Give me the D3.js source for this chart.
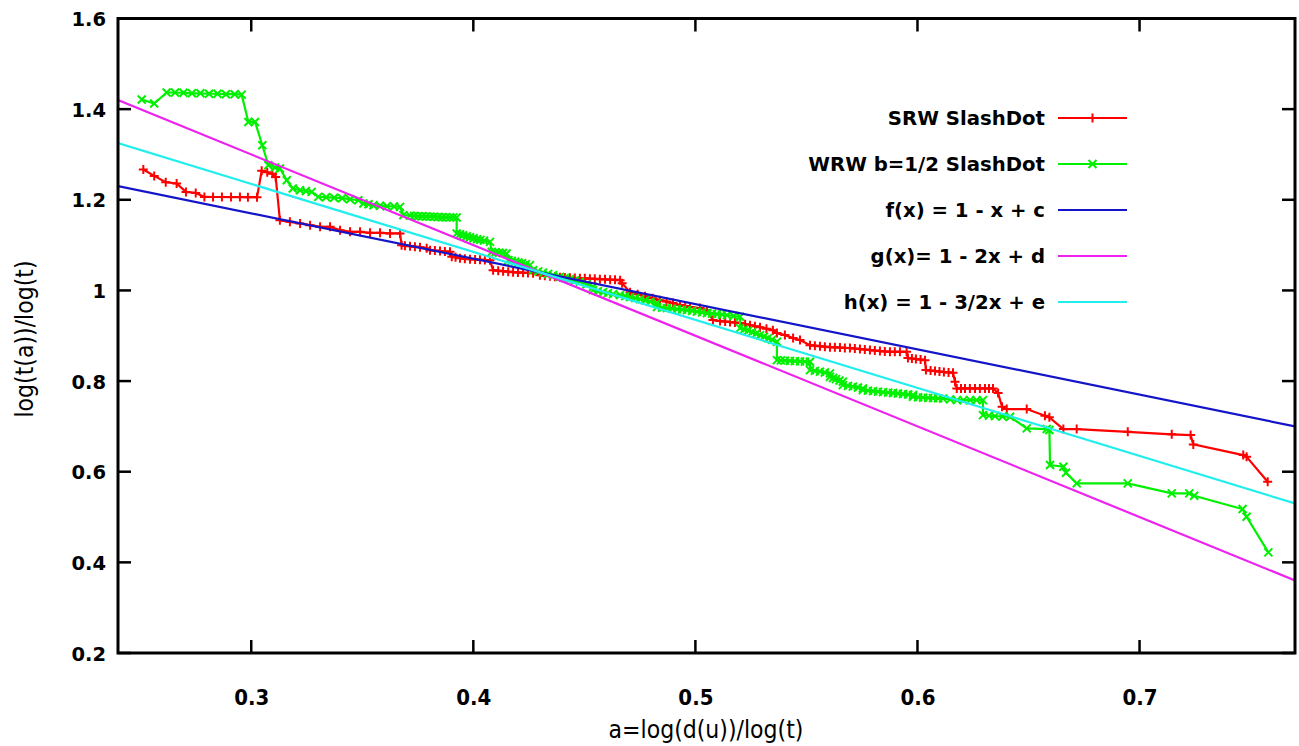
<!DOCTYPE html>
<html>
<head>
<meta charset="utf-8">
<script src="https://cdn.jsdelivr.net/npm/d3@7"></script>
<style>
html,body{margin:0;padding:0;background:#fff;}
svg{display:block;}
</style>
</head>
<body>
<svg id="chart" width="1299" height="746"></svg>
<script>
// ---------- data ----------
const xTicks = [0.3, 0.4, 0.5, 0.6, 0.7];
const yTicks = [0.2, 0.4, 0.6, 0.8, 1.0, 1.2, 1.4, 1.6];
const yTickLabels = ["0.2", "0.4", "0.6", "0.8", "1", "1.2", "1.4", "1.6"];

const srwSlashDot = [
  [0.2514,1.2669],[0.2563,1.2527],[0.2615,1.2388],[0.2664,1.2360],[0.2706,1.2174],[0.2750,1.2152],
  [0.2789,1.2064],[0.2828,1.2062],[0.2868,1.2062],[0.2909,1.2060],[0.2949,1.2060],[0.2985,1.2058],[0.3026,1.2058],
  [0.3047,1.2638],[0.3072,1.2609],[0.3095,1.2572],[0.3110,1.2505],
  [0.3129,1.1550],[0.3174,1.1513],[0.3220,1.1478],[0.3265,1.1440],[0.3310,1.1403],[0.3355,1.1403],
  [0.3400,1.1330],[0.3445,1.1292],[0.3490,1.1292],[0.3535,1.1270],[0.3580,1.1270],[0.3625,1.1257],[0.3670,1.1257],
  [0.3677,1.0999],[0.3692,1.0988],[0.3715,1.0977],[0.3737,1.0966],[0.3760,1.0955],[0.3790,1.0933],
  [0.3805,1.0889],[0.3827,1.0880],[0.3850,1.0870],[0.3872,1.0860],[0.3895,1.0851],
  [0.3903,1.0741],[0.3920,1.0730],[0.3940,1.0712],[0.3962,1.0700],[0.3985,1.0690],[0.4008,1.0684],
  [0.4030,1.0679],[0.4052,1.0672],[0.4075,1.0668],
  [0.4089,1.0447],[0.4112,1.0436],[0.4134,1.0425],[0.4157,1.0414],[0.4179,1.0403],[0.4201,1.0398],
  [0.4224,1.0392],[0.4246,1.0386],[0.4269,1.0381],
  [0.4300,1.0337],[0.4322,1.0326],[0.4345,1.0315],[0.4367,1.0304],[0.4390,1.0293],[0.4412,1.0288],
  [0.4435,1.0282],[0.4457,1.0276],[0.4480,1.0271],[0.4502,1.0266],[0.4525,1.0260],[0.4547,1.0255],
  [0.4570,1.0249],[0.4593,1.0244],[0.4616,1.0238],[0.4638,1.0233],[0.4661,1.0227],[0.4670,1.0161],
  [0.4706,0.9962],[0.4740,0.9918],[0.4773,0.9874],[0.4807,0.9830],[0.4841,0.9786],[0.4870,0.9753],
  [0.4899,0.9720],[0.4931,0.9676],[0.4954,0.9654],[0.4976,0.9632],
  [0.5021,0.9610],[0.5052,0.9565],
  [0.5079,0.9345],[0.5111,0.9323],[0.5134,0.9312],[0.5156,0.9301],[0.5178,0.9290],[0.5201,0.9279],
  [0.5224,0.9256],[0.5246,0.9234],[0.5268,0.9212],[0.5291,0.9190],[0.5320,0.9157],[0.5349,0.9124],
  [0.5367,0.9058],[0.5403,0.9014],[0.5440,0.8948],[0.5471,0.8904],
  [0.5516,0.8793],[0.5538,0.8782],[0.5561,0.8771],[0.5583,0.8760],[0.5606,0.8749],[0.5628,0.8744],
  [0.5651,0.8738],[0.5673,0.8732],[0.5696,0.8727],[0.5718,0.8716],[0.5741,0.8705],[0.5763,0.8694],
  [0.5786,0.8683],[0.5808,0.8672],[0.5831,0.8661],[0.5853,0.8653],[0.5876,0.8645],[0.5898,0.8645],
  [0.5921,0.8645],[0.5951,0.8645],
  [0.5957,0.8507],[0.5975,0.8496],[0.5993,0.8485],[0.6014,0.8474],[0.6034,0.8462],
  [0.6038,0.8242],[0.6059,0.8231],[0.6079,0.8220],[0.6099,0.8209],[0.6119,0.8198],[0.6140,0.8190],[0.6160,0.8182],
  [0.6169,0.7984],[0.6177,0.7838],[0.6196,0.7838],[0.6214,0.7838],[0.6236,0.7838],[0.6259,0.7838],
  [0.6281,0.7838],[0.6304,0.7838],[0.6322,0.7838],[0.6340,0.7838],
  [0.6363,0.7735],[0.6381,0.7432],[0.6402,0.7382],[0.6492,0.7382],
  [0.6574,0.7234],[0.6594,0.7199],[0.6657,0.6941],[0.6717,0.6941],[0.6947,0.6881],
  [0.7145,0.6824],[0.7230,0.6808],[0.7242,0.6603],[0.7467,0.6367],[0.7482,0.6330],[0.7577,0.5778]
];

const wrwSlashDot = [
  [0.2507,1.4213],[0.2563,1.4124],[0.2619,1.4367],[0.2657,1.4367],[0.2695,1.4360],[0.2733,1.4350],
  [0.2771,1.4350],[0.2810,1.4340],[0.2848,1.4340],[0.2886,1.4330],[0.2925,1.4330],[0.2957,1.4320],
  [0.2987,1.3718],[0.3017,1.3718],[0.3050,1.3204],[0.3077,1.2763],[0.3107,1.2713],[0.3129,1.2691],
  [0.3160,1.2432],[0.3187,1.2249],[0.3220,1.2212],[0.3246,1.2194],[0.3272,1.2175],
  [0.3302,1.2064],[0.3337,1.2057],[0.3373,1.2046],[0.3409,1.2035],[0.3445,1.2013],[0.3482,1.1991],
  [0.3505,1.1919],[0.3528,1.1900],[0.3550,1.1881],[0.3580,1.1870],[0.3611,1.1859],[0.3643,1.1852],[0.3670,1.1844],
  [0.3685,1.1661],[0.3715,1.1650],[0.3733,1.1645],[0.3751,1.1639],[0.3769,1.1636],[0.3787,1.1632],
  [0.3805,1.1628],[0.3823,1.1625],[0.3841,1.1620],[0.3859,1.1616],[0.3877,1.1614],
  [0.3895,1.1612],[0.3910,1.1611],[0.3925,1.1610],
  [0.3925,1.1257],[0.3940,1.1238],[0.3954,1.1219],[0.3970,1.1197],[0.3985,1.1175],[0.4001,1.1153],
  [0.4017,1.1131],[0.4032,1.1115],[0.4048,1.1098],[0.4075,1.1072],
  [0.4083,1.0851],[0.4100,1.0842],[0.4116,1.0833],[0.4133,1.0825],[0.4150,1.0816],
  [0.4158,1.0668],[0.4173,1.0652],[0.4188,1.0635],[0.4203,1.0618],[0.4219,1.0602],[0.4237,1.0580],[0.4255,1.0558],
  [0.4269,1.0447],[0.4292,1.0420],[0.4314,1.0392],[0.4337,1.0365],[0.4359,1.0337],
  [0.4390,1.0300],[0.4412,1.0275],[0.4435,1.0249],[0.4457,1.0222],[0.4480,1.0194],[0.4510,1.0137],[0.4539,1.0079],
  [0.4539,1.0006],[0.4561,0.9984],[0.4584,0.9962],[0.4606,0.9940],[0.4629,0.9918],[0.4661,0.9896],
  [0.4684,0.9874],[0.4706,0.9852],[0.4729,0.9830],[0.4751,0.9808],[0.4774,0.9780],[0.4796,0.9753],[0.4827,0.9720],
  [0.4827,0.9631],[0.4850,0.9620],[0.4872,0.9609],[0.4895,0.9598],[0.4917,0.9587],[0.4940,0.9576],[0.4962,0.9565],
  [0.4985,0.9548],[0.5007,0.9532],[0.5030,0.9515],[0.5052,0.9499],[0.5075,0.9488],[0.5097,0.9477],
  [0.5120,0.9466],[0.5142,0.9455],[0.5172,0.9436],[0.5201,0.9418],
  [0.5201,0.9168],[0.5219,0.9140],[0.5237,0.9113],[0.5255,0.9080],[0.5273,0.9047],[0.5291,0.9014],
  [0.5309,0.8981],[0.5327,0.8948],[0.5345,0.8914],[0.5367,0.8866],
  [0.5367,0.8462],[0.5385,0.8456],[0.5403,0.8451],[0.5426,0.8446],[0.5448,0.8440],[0.5471,0.8434],
  [0.5493,0.8429],[0.5516,0.8425],
  [0.5516,0.8242],[0.5538,0.8225],[0.5561,0.8209],[0.5583,0.8189],[0.5606,0.8169],
  [0.5606,0.8094],[0.5620,0.8068],[0.5633,0.8043],[0.5649,0.8013],[0.5664,0.7984],
  [0.5664,0.7911],[0.5687,0.7894],[0.5709,0.7878],[0.5732,0.7858],[0.5754,0.7838],
  [0.5754,0.7801],[0.5777,0.7790],[0.5800,0.7779],[0.5822,0.7768],[0.5845,0.7757],[0.5868,0.7746],
  [0.5890,0.7735],[0.5912,0.7724],[0.5935,0.7713],[0.5958,0.7702],[0.5980,0.7691],
  [0.5980,0.7653],[0.6003,0.7644],[0.6025,0.7635],[0.6048,0.7630],[0.6070,0.7624],[0.6093,0.7618],
  [0.6115,0.7613],[0.6147,0.7596],[0.6178,0.7580],[0.6207,0.7580],[0.6237,0.7580],[0.6266,0.7580],[0.6295,0.7580],
  [0.6295,0.7249],[0.6322,0.7238],[0.6349,0.7227],[0.6383,0.7220],[0.6417,0.7212],
  [0.6492,0.6956],[0.6582,0.6941],[0.6594,0.6919],
  [0.6597,0.6147],[0.6657,0.6109],[0.6669,0.5977],[0.6717,0.5743],[0.6947,0.5743],
  [0.7145,0.5522],[0.7224,0.5522],[0.7246,0.5469],[0.7464,0.5176],[0.7482,0.5006],[0.7580,0.4221]
];

// fitted reference lines: y = 1 - slope*x + offset
const fitSlopes  = [1, 2, 1.5];
const fitOffsets = [0.47, 0.90, 0.685];

const legendLabels = ["SRW SlashDot", "WRW b=1/2 SlashDot", "f(x) = 1 - x + c", "g(x)= 1 - 2x + d", "h(x) = 1 - 3/2x + e"];
const seriesColors = ["#ff0000", "#00f000", "#1414c8", "#ee22ee", "#22eeee"];

// ---------- layout ----------
const svg = d3.select("#chart");
const L = 118, R = 1295, T = 18.5, B = 653;
const x = d3.scaleLinear().domain([0.24, 0.77]).range([L, R]);
const y = d3.scaleLinear().domain([0.2, 1.6]).range([B, T]);

svg.append("defs").append("clipPath").attr("id", "clip")
  .append("rect").attr("x", L).attr("y", T).attr("width", R - L).attr("height", B - T);

const plot = svg.append("g").attr("clip-path", "url(#clip)");

const line = d3.line().x(d => x(d[0])).y(d => y(d[1]));
function plus(g, cx, cy, s, c) {
  g.append("path").attr("d", `M${cx - s},${cy}H${cx + s}M${cx},${cy - s}V${cy + s}`)
    .attr("stroke", c).attr("stroke-width", 2).attr("fill", "none");
}
function cross(g, cx, cy, s, c) {
  g.append("path").attr("d", `M${cx - s},${cy - s}L${cx + s},${cy + s}M${cx - s},${cy + s}L${cx + s},${cy - s}`)
    .attr("stroke", c).attr("stroke-width", 2).attr("fill", "none");
}

// red series
plot.append("path").attr("d", line(srwSlashDot)).attr("fill", "none")
  .attr("stroke", seriesColors[0]).attr("stroke-width", 2.2);
srwSlashDot.forEach(d => plus(plot, x(d[0]), y(d[1]), 4.5, seriesColors[0]));

// green series
plot.append("path").attr("d", line(wrwSlashDot)).attr("fill", "none")
  .attr("stroke", seriesColors[1]).attr("stroke-width", 2.2);
wrwSlashDot.forEach(d => cross(plot, x(d[0]), y(d[1]), 4, seriesColors[1]));

// fitted lines (drawn on top, like the reference)
const xDom = x.domain();
fitSlopes.forEach((s, i) => {
  const pts = xDom.map(v => [v, 1 - s * v + fitOffsets[i]]);
  plot.append("path")
    .attr("d", line(pts))
    .attr("fill", "none").attr("stroke", seriesColors[i + 2]).attr("stroke-width", 2.2);
});

// ---------- axes / frame ----------
const tickLen = 13;
const axisG = svg.append("g");
xTicks.forEach(v => {
  axisG.append("line").attr("x1", x(v)).attr("x2", x(v)).attr("y1", B).attr("y2", B - tickLen)
    .attr("stroke", "#000").attr("stroke-width", 2.5);
  axisG.append("line").attr("x1", x(v)).attr("x2", x(v)).attr("y1", T).attr("y2", T + tickLen)
    .attr("stroke", "#000").attr("stroke-width", 2.5);
});
yTicks.forEach(v => {
  axisG.append("line").attr("x1", L).attr("x2", L + tickLen).attr("y1", y(v)).attr("y2", y(v))
    .attr("stroke", "#000").attr("stroke-width", 2.5);
  axisG.append("line").attr("x1", R).attr("x2", R - tickLen).attr("y1", y(v)).attr("y2", y(v))
    .attr("stroke", "#000").attr("stroke-width", 2.5);
});
axisG.append("rect").attr("x", L).attr("y", T).attr("width", R - L).attr("height", B - T)
  .attr("fill", "none").attr("stroke", "#000").attr("stroke-width", 3);

// tick labels via d3 axes (domain and tick lines hidden, only text)
const xAxis = d3.axisBottom(x).tickValues(xTicks).tickFormat(d3.format(".1f")).tickSize(0).tickPadding(0);
const gx = svg.append("g").attr("transform", `translate(0,${B + 52})`).call(xAxis);
gx.select(".domain").remove();
gx.selectAll("text").attr("font-family", "'DejaVu Sans', sans-serif").attr("font-weight", "bold")
  .attr("font-stretch", "condensed").attr("font-size", 22).attr("fill", "#000").attr("dy", 0);

const yAxis = d3.axisLeft(y).tickValues(yTicks).tickFormat((d, i) => yTickLabels[i]).tickSize(0).tickPadding(0);
const gy = svg.append("g").attr("transform", `translate(${L - 12},0)`).call(yAxis);
gy.select(".domain").remove();
gy.selectAll("text").attr("font-family", "'DejaVu Sans', sans-serif").attr("font-weight", "bold")
  .attr("font-size", 19.5).attr("fill", "#000").attr("dy", "0.36em");

// axis titles
svg.append("text").attr("x", 706).attr("y", 738).attr("text-anchor", "middle")
  .attr("font-family", "'DejaVu Sans', sans-serif").attr("font-stretch", "condensed")
  .attr("font-size", 24.5).text("a=log(d(u))/log(t)");
svg.append("text").attr("transform", "translate(33,339) rotate(-90)").attr("text-anchor", "middle")
  .attr("font-family", "'DejaVu Sans', sans-serif").attr("font-stretch", "condensed")
  .attr("font-size", 24.5).text("log(t(a))/log(t)");

// ---------- legend ----------
const legY0 = 118, legDY = 46, legTextX = 1045, legLineX1 = 1058, legLineX2 = 1127;
legendLabels.forEach((lab, i) => {
  const yy = legY0 + i * legDY;
  svg.append("text").attr("x", legTextX).attr("y", yy).attr("dy", "0.36em").attr("text-anchor", "end")
    .attr("font-family", "'DejaVu Sans', sans-serif").attr("font-weight", "bold").attr("font-size", 19.7)
    .text(lab);
  svg.append("line").attr("x1", legLineX1).attr("x2", legLineX2).attr("y1", yy).attr("y2", yy)
    .attr("stroke", seriesColors[i]).attr("stroke-width", 2.2);
  const mx = (legLineX1 + legLineX2) / 2;
  if (i === 0) plus(svg, mx, yy, 4.5, seriesColors[0]);
  if (i === 1) cross(svg, mx, yy, 4, seriesColors[1]);
});
</script>
</body>
</html>
